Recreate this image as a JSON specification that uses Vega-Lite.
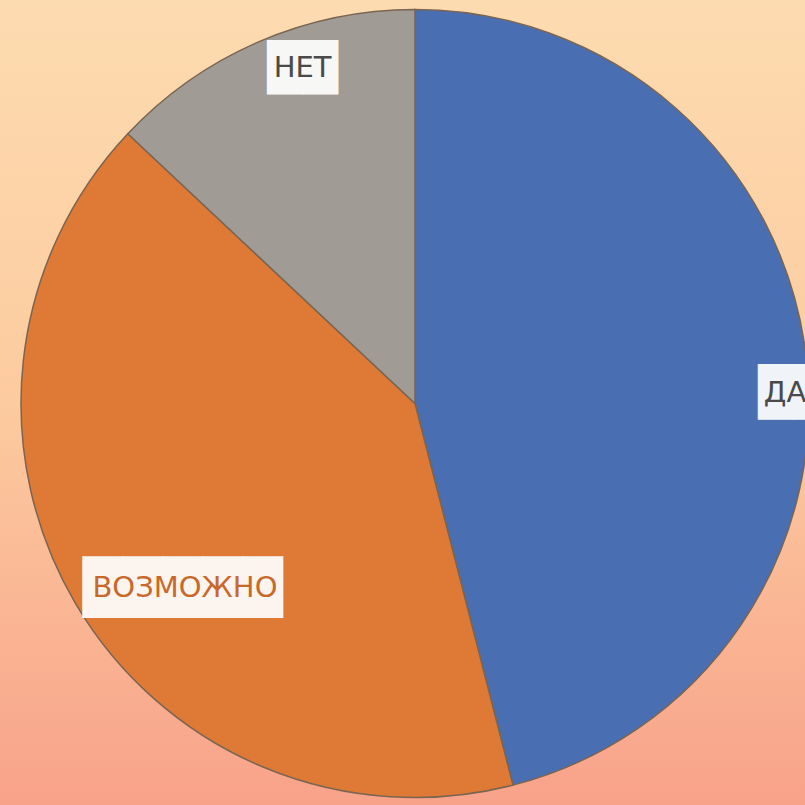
{
  "$schema": "https://vega.github.io/schema/vega-lite/v6.json",
  "autosize": "none",
  "width": 780,
  "height": 803,
  "padding": {"left": 25, "top": 2, "right": 0, "bottom": 0},
  "background": "#FCCB9F",
  "config": {"view": {"stroke": null}},
  "data": {"values": [
    {"answer": "ДА", "value": 46},
    {"answer": "ВОЗМОЖНО", "value": 41},
    {"answer": "НЕТ", "value": 13}
  ]},
  "layer": [
    {
      "data": {"values": [{"bg": 1}]},
      "mark": {"type": "arc", "theta": 0, "theta2": 6.2832, "outerRadius": 600,
        "fill": {"gradient": "linear", "x1": 0, "y1": 0, "x2": 0, "y2": 1,
          "stops": [
            {"offset": 0, "color": "#FDDBB0"},
            {"offset": 0.164, "color": "#FDDBB0"},
            {"offset": 0.5, "color": "#FCCB9F"},
            {"offset": 0.834, "color": "#F8A28A"},
            {"offset": 1, "color": "#F8A28A"}
          ]}},
      "encoding": {}
    },
    {
      "mark": {"type": "arc", "outerRadius": 394, "stroke": "#7a6552", "strokeWidth": 1.5},
      "encoding": {
        "theta": {"field": "value", "type": "quantitative", "stack": true},
        "order": {"field": "value", "type": "quantitative", "sort": "descending"},
        "color": {"field": "answer", "type": "nominal", "legend": null,
          "scale": {"domain": ["ДА", "ВОЗМОЖНО", "НЕТ"], "range": ["#4A6EB2", "#DE7A35", "#A09B95"]}}
      }
    },
    {
      "mark": {"type": "text", "radius": 356, "dx": 29, "dy": -8, "font": "DejaVu Sans", "fontSize": 46, "align": "center", "baseline": "middle", "fill": "#FFFFFF", "opacity": 0.92},
      "encoding": {
        "theta": {"field": "value", "type": "quantitative", "stack": true},
        "order": {"field": "value", "type": "quantitative", "sort": "descending"},
        "detail": {"field": "answer", "type": "nominal"},
        "text": {"condition": {"test": "datum.answer === 'НЕТ'", "value": "██"}, "value": ""}
      }
    },
    {
      "mark": {"type": "text", "radius": 356, "dx": 29, "dy": -9, "font": "DejaVu Sans", "fontSize": 29, "align": "center", "baseline": "middle", "fill": "#4a4a4a"},
      "encoding": {
        "theta": {"field": "value", "type": "quantitative", "stack": true},
        "order": {"field": "value", "type": "quantitative", "sort": "descending"},
        "detail": {"field": "answer", "type": "nominal"},
        "text": {"condition": {"test": "datum.answer === 'НЕТ'", "field": "answer"}, "value": ""}
      }
    },
    {
      "mark": {"type": "text", "radius": 294, "dx": 21, "dy": 36, "font": "DejaVu Sans", "fontSize": 52, "align": "center", "baseline": "middle", "fill": "#FFFFFF", "opacity": 0.92},
      "encoding": {
        "theta": {"field": "value", "type": "quantitative", "stack": true},
        "order": {"field": "value", "type": "quantitative", "sort": "descending"},
        "detail": {"field": "answer", "type": "nominal"},
        "text": {"condition": {"test": "datum.answer === 'ВОЗМОЖНО'", "value": "█████"}, "value": ""}
      }
    },
    {
      "mark": {"type": "text", "radius": 294, "dx": 23, "dy": 35, "font": "DejaVu Sans", "fontSize": 29, "align": "center", "baseline": "middle", "fill": "#C8692C"},
      "encoding": {
        "theta": {"field": "value", "type": "quantitative", "stack": true},
        "order": {"field": "value", "type": "quantitative", "sort": "descending"},
        "detail": {"field": "answer", "type": "nominal"},
        "text": {"condition": {"test": "datum.answer === 'ВОЗМОЖНО'", "field": "answer"}, "value": ""}
      }
    },
    {
      "mark": {"type": "text", "radius": 374, "dx": 8, "dy": 37, "font": "DejaVu Sans", "fontSize": 47, "align": "center", "baseline": "middle", "fill": "#FFFFFF", "opacity": 0.92},
      "encoding": {
        "theta": {"field": "value", "type": "quantitative", "stack": true},
        "order": {"field": "value", "type": "quantitative", "sort": "descending"},
        "detail": {"field": "answer", "type": "nominal"},
        "text": {"condition": {"test": "datum.answer === 'ДА'", "value": "██"}, "value": ""}
      }
    },
    {
      "mark": {"type": "text", "radius": 374, "dx": -1, "dy": 36, "font": "DejaVu Sans", "fontSize": 29, "align": "center", "baseline": "middle", "fill": "#4a4a4a"},
      "encoding": {
        "theta": {"field": "value", "type": "quantitative", "stack": true},
        "order": {"field": "value", "type": "quantitative", "sort": "descending"},
        "detail": {"field": "answer", "type": "nominal"},
        "text": {"condition": {"test": "datum.answer === 'ДА'", "field": "answer"}, "value": ""}
      }
    }
  ]
}
